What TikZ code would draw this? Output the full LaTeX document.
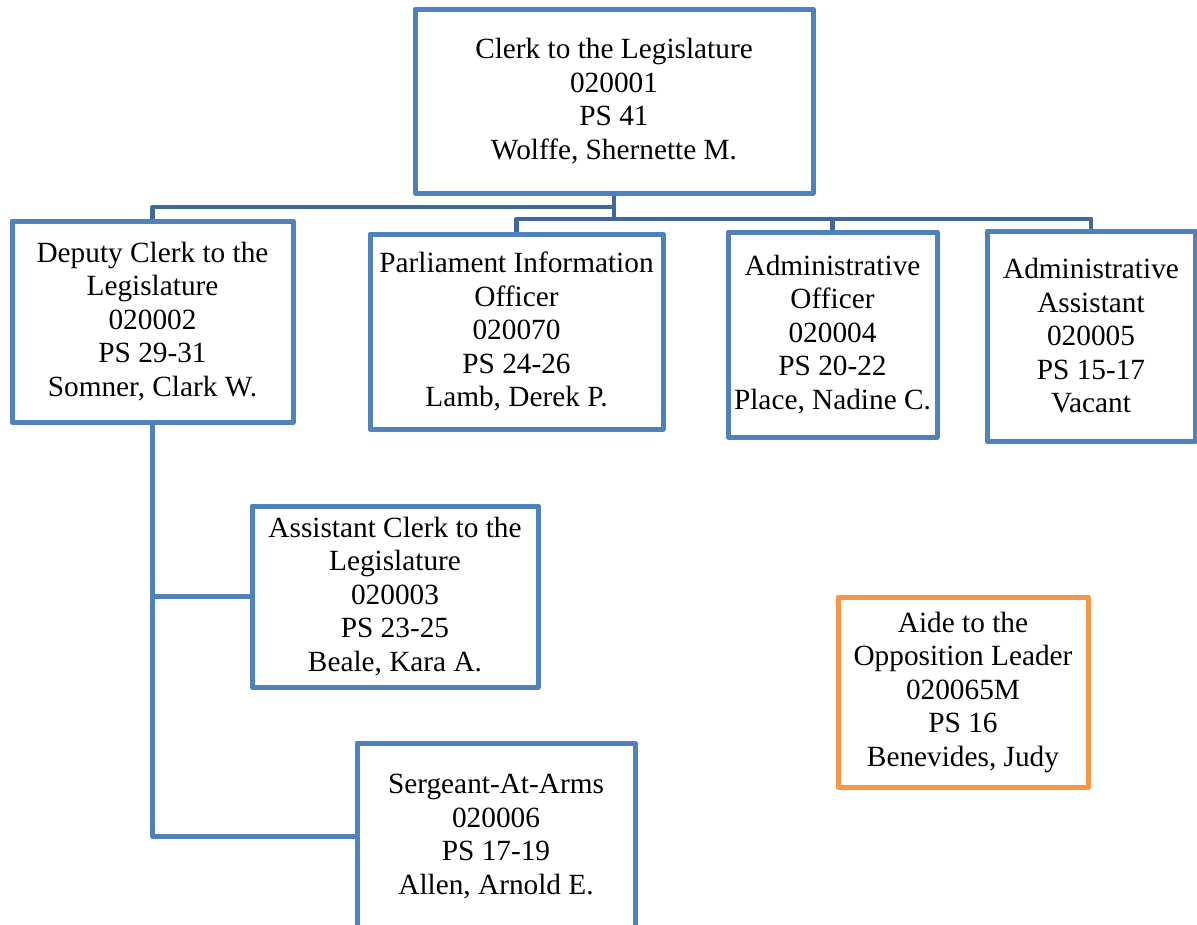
\documentclass[tikz,border=0pt]{standalone}
\usepackage{fontspec}
\setmainfont{Liberation Serif}
\definecolor{boxblue}{HTML}{4F81BD}
\definecolor{linkblue}{HTML}{41689A}
\definecolor{aideorange}{HTML}{F79646}
\begin{document}
\begin{tikzpicture}[x=1pt,y=-1pt,
  post/.style={draw=boxblue, line width=5pt, line join=round, fill=white,
    inner sep=0pt, align=center, font=\fontsize{29.3}{33.5}\selectfont},
  conn/.style={draw=linkblue, line width=4.5pt, line join=round},
  subconn/.style={draw=boxblue, line width=4.5pt, line join=round}]
\clip (0,0) rectangle (1197,924);
\fill[white] (0,0) rectangle (1197,924);
% boxes
\node[post, minimum width=398pt, minimum height=184pt] (top) at (614,101)
  {Clerk to the Legislature\\020001\\PS 41\\Wolffe, Shernette M.};
\node[post, minimum width=281pt, minimum height=201pt] (dep) at (152.5,321.5)
  {Deputy Clerk to the\\Legislature\\020002\\PS 29-31\\Somner, Clark W.};
\node[post, minimum width=293pt, minimum height=195pt] (pio) at (516.5,331.5)
  {Parliament Information\\Officer\\020070\\PS 24-26\\Lamb, Derek P.};
\node[post, minimum width=209pt, minimum height=205pt] (ado) at (832.5,334.5)
  {Administrative\\Officer\\020004\\PS 20-22\\Place, Nadine C.};
\node[post, minimum width=208pt, minimum height=210pt] (ada) at (1091,336)
  {Administrative\\Assistant\\020005\\PS 15-17\\Vacant};
\node[post, minimum width=286pt, minimum height=181pt] (asc) at (395,596.5)
  {Assistant Clerk to the\\Legislature\\020003\\PS 23-25\\Beale, Kara A.};
\node[post, minimum width=278pt, minimum height=187pt] (ser) at (496,836.5)
  {Sergeant-At-Arms\\020006\\PS 17-19\\Allen, Arnold E.};
\node[post, draw=aideorange, minimum width=250pt, minimum height=190pt] (aide) at (963,692)
  {Aide to the\\Opposition Leader\\020065M\\PS 16\\Benevides, Judy};
% junctions
\coordinate (j1) at (614,207);
\coordinate (j2) at (614,219);
% connectors from the top box
\draw[conn] (top.south) -- (j2);
\draw[conn] (j1) -| (dep.north);
\draw[conn] (pio.north) |- (j2) -| (ada.north);
\draw[conn] (ado.north |- j2) -- (ado.north);
% deputy subtree
\draw[subconn] (dep.south) |- (ser.west);
\draw[subconn] (dep.south |- asc.west) -- (asc.west);
\end{tikzpicture}
\end{document}
